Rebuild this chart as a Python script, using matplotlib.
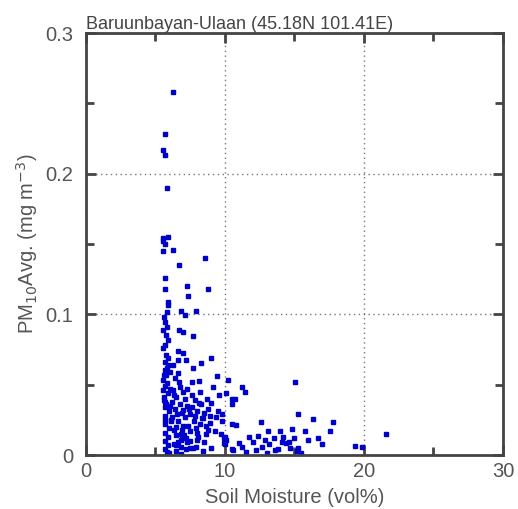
import matplotlib.pyplot as plt
import numpy as np

plt.rcParams['font.family'] = ['Liberation Sans', 'DejaVu Sans']

# soil moisture (vol%) and PM10 average (mg m^-3)
sm = [6.24, 5.68, 5.56, 5.71, 5.80, 5.56, 5.87,
      5.56, 5.68, 5.56, 6.24, 8.56, 6.71, 5.68, 5.68, 7.24, 8.75, 7.36, 5.87,
      5.87, 5.80, 6.83, 7.12, 7.91, 5.68, 5.80, 5.56, 6.71, 7.00, 7.72, 5.87,
      5.56, 5.76, 6.64, 7.00, 5.92, 6.64, 7.19, 8.99, 5.68, 5.92, 6.28, 8.25,
      7.72, 5.68, 6.04, 6.64, 9.40, 5.56, 5.85, 8.15, 9.16, 10.24, 7.60,
      5.56, 5.92, 6.76, 7.00, 7.24, 7.60, 8.20, 8.68, 9.00, 9.60, 10.10, 10.50,
      5.68, 6.16, 6.50, 6.76, 7.24, 7.84, 8.30, 5.68, 6.00, 6.40, 6.90, 7.50,
      8.00, 8.50, 8.90, 9.80, 5.68, 6.20, 6.60, 7.10, 7.80, 8.20, 8.90, 9.80,
      10.50, 5.68, 6.00, 6.50, 6.90, 7.50, 8.00, 8.60, 5.68, 5.90, 6.50, 6.80,
      7.20, 7.50, 8.00, 8.50, 9.00, 5.68, 5.90, 6.30, 6.80, 7.20, 7.90, 5.80,
      6.50, 9.90, 10.00, 10.50,
      11.20, 11.44, 10.70, 10.50, 15.04, 15.27, 16.35, 17.80, 17.55, 12.59,
      10.80, 13.10, 13.96, 14.80, 15.76, 11.75, 12.40, 13.50, 14.20, 15.00,
      16.00, 16.70, 16.95, 12.00, 12.90, 13.20, 14.10, 14.40, 11.00, 11.20,
      10.60, 12.64, 13.60, 14.68, 15.27, 15.16, 19.35, 19.83, 21.60, 10.00,
      10.10, 9.90,
      6.10, 6.30, 5.75, 6.05, 7.40, 6.95, 8.35, 5.62, 6.45, 7.05, 5.95, 6.85,
      5.60, 5.75, 5.65, 5.80, 5.60, 5.72, 5.64, 5.78, 5.66, 5.70,
      6.35, 6.55, 6.70, 6.85, 7.35, 7.65, 7.95, 8.40, 8.75, 9.25,
      6.15, 6.60, 7.15, 7.70, 8.10, 8.65, 9.35, 6.25, 6.90, 7.45,
      8.05, 8.80, 9.50, 6.40, 7.30, 7.85, 8.45, 9.70, 6.05, 7.00,
      12.20, 13.80, 14.60, 11.50, 15.50, 13.00]
pm10 = [0.258, 0.228, 0.217, 0.213, 0.190, 0.154, 0.155,
        0.152, 0.150, 0.145, 0.146, 0.140, 0.135, 0.126, 0.118, 0.120, 0.118,
        0.113, 0.109, 0.107, 0.102, 0.1025, 0.0995, 0.1025, 0.0947, 0.0912,
        0.0888, 0.0888, 0.0876, 0.0846, 0.0817, 0.0758, 0.0711, 0.0741, 0.0727,
        0.0687, 0.0675, 0.0675, 0.0687, 0.0663, 0.064, 0.064, 0.0651, 0.0616,
        0.0604, 0.0592, 0.0581, 0.0561, 0.0533, 0.0509, 0.0528, 0.0485, 0.0533,
        0.052,
        0.046, 0.044, 0.0485, 0.045, 0.047, 0.0426, 0.045, 0.040, 0.037, 0.043,
        0.044, 0.040, 0.038, 0.038, 0.041, 0.036, 0.035, 0.039, 0.036, 0.034,
        0.031, 0.033, 0.030, 0.029, 0.031, 0.030, 0.028, 0.029, 0.028, 0.027,
        0.024, 0.027, 0.024, 0.022, 0.023, 0.024, 0.022, 0.022, 0.019, 0.020,
        0.018, 0.017, 0.016, 0.015, 0.016, 0.013, 0.014, 0.011, 0.012, 0.010,
        0.011, 0.009, 0.005, 0.010, 0.007, 0.008, 0.006, 0.004, 0.006, 0.002,
        0.003, 0.012, 0.008, 0.004,
        0.0485, 0.0446, 0.040, 0.036, 0.0517, 0.029, 0.0256, 0.0237, 0.0173,
        0.0237, 0.0213, 0.0173, 0.0173, 0.0182, 0.0173, 0.013, 0.0137, 0.0118,
        0.0126, 0.0118, 0.0107, 0.0118, 0.0076, 0.0095, 0.0107, 0.0078, 0.0095,
        0.0083, 0.0083, 0.0059, 0.0036, 0.0059, 0.0036, 0.0047, 0.0047, 0.0028,
        0.0064, 0.0059, 0.0149, 0.013, 0.011, 0.0083,
        0.025, 0.018, 0.057, 0.047, 0.033, 0.021, 0.026, 0.039, 0.007, 0.014,
        0.0015, 0.0005,
        0.0985, 0.085, 0.078, 0.062, 0.057, 0.049, 0.041, 0.036, 0.025, 0.004,
        0.043, 0.029, 0.052, 0.015, 0.021, 0.034, 0.019, 0.026, 0.033, 0.017,
        0.024, 0.009, 0.040, 0.005, 0.037, 0.021, 0.027, 0.046, 0.012, 0.005,
        0.013, 0.018, 0.031, 0.055, 0.009, 0.028, 0.003, 0.015, 0.035, 0.032,
        0.0035, 0.0045, 0.0095, 0.0025, 0.0015, 0.0015]

title = 'Baruunbayan-Ulaan (45.18N 101.41E)'
xticks = [0, 10, 20, 30]
yticks = [0, 0.1, 0.2, 0.3]
yticklabels = ['0', '0.1', '0.2', '0.3']

fig = plt.figure(figsize=(5.18, 5.09), dpi=100)
ax = fig.add_axes([0.166, 0.106, 0.805, 0.829])

ax.plot(sm, pm10, 's', ms=3.3, color='#0000cc', mec='#0000cc', ls='none')

ax.set_xlim(0, 30)
ax.set_ylim(0, 0.3)
ax.set_xticks(xticks)
ax.set_yticks(yticks)
ax.set_yticklabels(yticklabels)
ax.set_xticks([5, 15, 25], minor=True)
ax.set_yticks([0.05, 0.15, 0.25], minor=True)
ax.grid(True, which='major', ls=(0, (1, 2.5)), color='#777777', lw=1.0)

for s in ax.spines.values():
    s.set_linewidth(2.0)
    s.set_color('#444444')
ax.tick_params(which='both', direction='in', top=True, right=True,
               width=2.0, color='#444444', labelsize=14.5, labelcolor='#555555')
ax.tick_params(axis='y', which='both', pad=9)
ax.tick_params(axis='x', which='both', pad=5)
ax.tick_params(which='major', length=7)
ax.tick_params(which='minor', length=6)

ax.set_xlabel('Soil Moisture (vol%)', fontsize=14.5, color='#555555', labelpad=5)
ax.set_ylabel('PM$_{10}$Avg. (mg m$^{-3}$)', fontsize=14.5, color='#555555',
              labelpad=4)
ax.set_title(title, loc='left', fontsize=13, color='#444444', pad=3)

fig.savefig('out.png', dpi=100)
